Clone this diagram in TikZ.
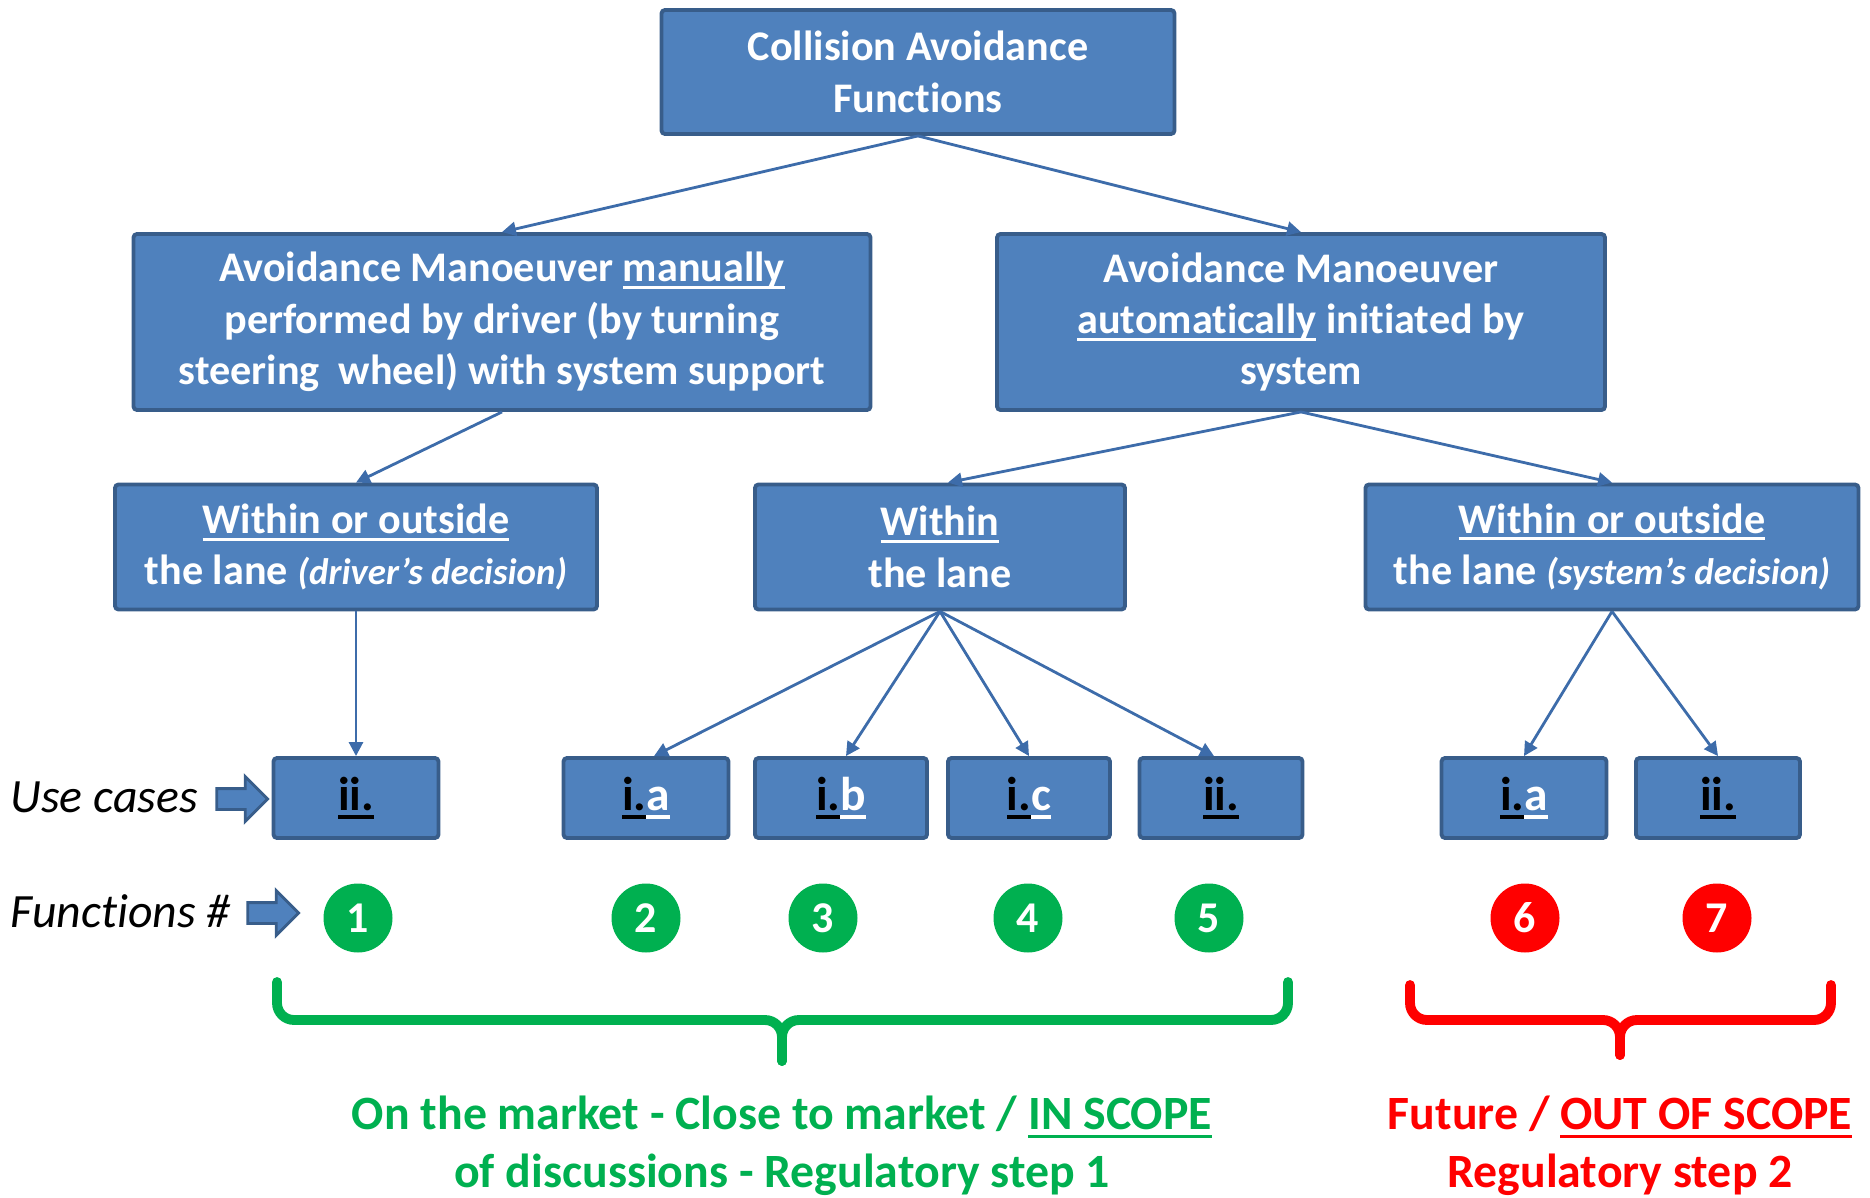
\documentclass[tikz,border=0pt]{standalone}
\usepackage{fontspec}
\setmainfont[Ligatures=NoCommon]{Carlito}
\usetikzlibrary{arrows.meta,shapes.arrows}
\definecolor{boxFill}{HTML}{4F81BD}
\definecolor{boxLine}{HTML}{385D8A}
\definecolor{edgeBlue}{HTML}{3D6CAA}
\definecolor{inGreen}{HTML}{00B050}
\definecolor{outRed}{HTML}{FF0000}

\tikzstyle{bS}=[rectangle,fill=boxFill,draw=boxLine,line width=1.1pt,rounded corners=1pt,text=white,font=\bfseries\fontsize{12}{14.6}\selectfont,align=center,inner sep=0pt]
\tikzstyle{uS}=[bS,minimum width=1.65cm,minimum height=0.80cm,text=black,font=\bfseries\fontsize{13.5}{16}\selectfont]
\tikzstyle{fG}=[circle,fill=inGreen,minimum size=0.69cm,inner sep=0pt,text=white,font=\bfseries\fontsize{12.5}{15}\selectfont]
\tikzstyle{fR}=[fG,fill=outRed]
\tikzstyle{eS}=[draw=edgeBlue,line width=0.8pt,-{Triangle[length=1.4mm,width=1.4mm]}]
\tikzstyle{lS}=[anchor=west,inner sep=0pt,font=\itshape\fontsize{13.6}{15}\selectfont]
\tikzstyle{aS}=[single arrow,fill=boxFill,draw=boxLine,line width=0.8pt,minimum height=0.51cm,inner sep=0.09cm,single arrow head extend=0.12cm]
\tikzstyle{brS}=[line width=2.8pt,rounded corners=0.17cm,line cap=round]
\tikzstyle{tS}=[align=center,inner sep=0pt,font=\bfseries\fontsize{13.6}{16.4}\selectfont]

\newlength{\undlW}
\newcommand{\undl}[1]{\settowidth{\undlW}{#1}\rlap{\rule[-0.17em]{\undlW}{0.07em}}#1}
\newcommand{\ucase}[2]{\undl{#1}\textcolor{white}{\undl{#2}}}

\begin{document}
\begin{tikzpicture}
    \useasboundingbox (0,0) rectangle (18.70,11.97);
    % tree of boxes
    \draw (9.18,11.25) node[bS,minimum width=5.13cm,minimum height=1.24cm] (top) {Collision Avoidance\\Functions};
    \draw (5.02,8.75) node[bS,minimum width=7.37cm,minimum height=1.76cm] (lft) {Avoidance Manoeuver \undl{manually}\\performed by driver (by turning\\steering\ \ wheel) with system support};
    \draw (13.01,8.75) node[bS,minimum width=6.08cm,minimum height=1.76cm] (rgt) {Avoidance Manoeuver\\\undl{automatically} initiated by\\system};
    \draw (3.56,6.50) node[bS,minimum width=4.82cm,minimum height=1.25cm] (wA) {\undl{Within or outside}\\the lane {\itshape\fontsize{10.5}{12}\selectfont (driver’s decision)}};
    \draw (9.40,6.50) node[bS,minimum width=3.70cm,minimum height=1.25cm] (wB) {\undl{Within}\\the lane};
    \draw (16.12,6.50) node[bS,minimum width=4.93cm,minimum height=1.25cm] (wC) {\undl{Within or outside}\\the lane {\itshape\fontsize{10.5}{12}\selectfont (system’s decision)}};

    % use cases
    \draw (3.56,3.99) node[uS] (u1) {\undl{ii.}};
    \draw (6.46,3.99) node[uS] (u2) {\ucase{i.}{a}};
    \draw (8.41,3.99) node[uS,minimum width=1.72cm] (u3) {\ucase{i.}{b}};
    \draw (10.29,3.99) node[uS,minimum width=1.62cm] (u4) {\ucase{i.}{c}};
    \draw (12.21,3.99) node[uS,minimum width=1.63cm] (u5) {\undl{ii.}};
    \draw (15.24,3.99) node[uS] (u6) {\ucase{i.}{a}};
    \draw (17.18,3.99) node[uS,minimum width=1.64cm] (u7) {\undl{ii.}};

    % functions
    \draw (3.58,2.79) node[fG] (f1) {1};
    \draw (6.46,2.79) node[fG] (f2) {2};
    \draw (8.23,2.79) node[fG] (f3) {3};
    \draw (10.28,2.79) node[fG] (f4) {4};
    \draw (12.09,2.79) node[fG] (f5) {5};
    \draw (15.25,2.79) node[fR] (f6) {6};
    \draw (17.17,2.79) node[fR] (f7) {7};

    % row labels
    \draw (0.10,4.00) node[lS] (ucLbl) {Use cases};
    \draw (0.10,2.86) node[lS] (fnLbl) {Functions \#};
    \draw (2.37,3.98) node[aS] (ucArr) {};
    \draw (2.68,2.84) node[aS] (fnArr) {};

    \path
        (top.south) edge[eS] (lft.north)
        (top.south) edge[eS] (rgt.north)
        (lft.south) edge[eS] (wA.north)
        (rgt.south) edge[eS] ([xshift=0.08cm]wB.north)
        (rgt.south) edge[eS] (wC.north)
        (wA.south) edge[eS] (u1.north)
        (wB.south) edge[eS] ([xshift=0.08cm]u2.north)
        (wB.south) edge[eS] ([xshift=0.05cm]u3.north)
        (wB.south) edge[eS] (u4.north)
        (wB.south) edge[eS] ([xshift=-0.07cm]u5.north)
        (wC.south) edge[eS] (u6.north)
        (wC.south) edge[eS] (u7.north)
    ;

    % brackets
    \draw[brS,draw=inGreen] (2.77,2.15) -- (2.77,1.77) -- (7.82,1.77) -- (7.82,1.36);
    \draw[brS,draw=inGreen] (12.88,2.15) -- (12.88,1.77) -- (7.82,1.77) -- (7.82,1.36);
    \draw[brS,draw=outRed] (14.10,2.12) -- (14.10,1.77) -- (16.20,1.77) -- (16.20,1.42);
    \draw[brS,draw=outRed] (18.31,2.12) -- (18.31,1.77) -- (16.20,1.77) -- (16.20,1.42);

    \draw (7.82,0.51) node[tS,text=inGreen] (inTxt) {On the market - Close to market / \undl{IN SCOPE}\\of discussions - Regulatory step 1};
    \draw (16.20,0.51) node[tS,text=outRed] (outTxt) {Future / \undl{OUT OF SCOPE}\\Regulatory step 2};
\end{tikzpicture}
\end{document}
